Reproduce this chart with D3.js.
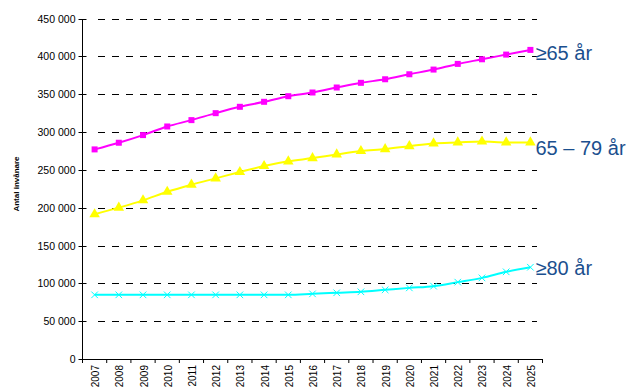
<!DOCTYPE html>
<html>
<head>
<meta charset="utf-8">
<script src="https://cdn.jsdelivr.net/npm/d3@7"></script>
<style>
  html, body { margin: 0; padding: 0; background: #fff; }
  svg { display: block; font-family: "Liberation Sans", Arial, sans-serif; }
</style>
</head>
<body>
<svg id="chart" width="633" height="389"></svg>
<script>
const years = ["2007","2008","2009","2010","2011","2012","2013","2014","2015","2016",
               "2017","2018","2019","2020","2021","2022","2023","2024","2025"];
const age65plus = [277000,285800,295900,307300,315700,324900,333300,339900,347300,352200,
                   358800,365000,369700,376300,382500,390000,396100,402300,408500];
const age65to79 = [191300,200100,209700,221000,230400,238700,247100,255000,261200,265500,
                   270400,274800,277400,281300,284900,286200,287500,286200,286200];
const age80plus = [84800,84800,84800,84800,84800,84800,84800,84800,84800,86100,
                   87500,88800,91400,94000,96300,101600,107200,115200,121300];
const yTicks = [0,50000,100000,150000,200000,250000,300000,350000,400000,450000];
const seriesNames = ["≥65 år", "65 – 79 år", "≥80 år"];

const svg = d3.select("#chart");
const m = { left: 82.5, right: 542.5, top: 18.5, bottom: 359 };

const x = d3.scaleBand().domain(years).range([m.left, m.right]);
const y = d3.scaleLinear().domain([0, 450000]).range([m.bottom, m.top]);
const fmt = v => d3.format(",")(v).replace(/,/g, " ");
const snap = v => Math.round(v) + 0.5;

// dashed horizontal gridlines
svg.append("g").selectAll("line")
  .data(yTicks.filter(d => d > 0))
  .join("line")
  .attr("x1", 98).attr("x2", 537)
  .attr("y1", d => snap(y(d))).attr("y2", d => snap(y(d)))
  .attr("stroke", "#000").attr("stroke-width", 1)
  .attr("stroke-dasharray", "7,7");

// y axis: line, ticks crossing the axis, labels
const yAxis = svg.append("g");
yAxis.append("line").attr("x1", m.left).attr("x2", m.left)
  .attr("y1", snap(y(450000)) - 0.5).attr("y2", m.bottom + 1).attr("stroke", "#000");
yAxis.selectAll("line.tk").data(yTicks).join("line").attr("class", "tk")
  .attr("x1", m.left - 4).attr("x2", m.left + 4)
  .attr("y1", d => snap(y(d))).attr("y2", d => snap(y(d)))
  .attr("stroke", "#000");
yAxis.selectAll("text").data(yTicks).join("text")
  .attr("x", m.left - 7).attr("y", d => y(d) + 4)
  .attr("text-anchor", "end").attr("font-size", 10.5)
  .text(fmt);

// x axis with ticks at category boundaries
const xAxisG = svg.append("g").attr("transform", `translate(0,${m.bottom})`);
xAxisG.append("line").attr("x1", m.left).attr("x2", m.right).attr("y1", 0.5).attr("y2", 0.5)
  .attr("stroke", "#000");
const boundaries = years.map(d => x(d)).concat([m.right]);
xAxisG.selectAll("line.tk").data(boundaries).join("line").attr("class", "tk")
  .attr("x1", d => d).attr("x2", d => d).attr("y1", 0).attr("y2", 4)
  .attr("stroke", "#000");
xAxisG.selectAll("text").data(years).join("text")
  .attr("transform", d => `translate(${x(d) + x.bandwidth() / 2 + 4.5},6) rotate(-90)`)
  .attr("text-anchor", "end")
  .attr("font-size", 10)
  .text(d => d);

// y axis title
svg.append("text")
  .attr("transform", "translate(19,184) rotate(-90)")
  .attr("text-anchor", "middle")
  .attr("font-size", 8).attr("font-weight", "bold")
  .text("Antal invånare");

const cx = d => x(d) + x.bandwidth() / 2;
const line = d3.line().x((d, i) => cx(years[i])).y(d => y(d)).curve(d3.curveMonotoneX);

// ≥65 år
svg.append("path").datum(age65plus).attr("d", line)
  .attr("fill", "none").attr("stroke", "#FF00FF").attr("stroke-width", 2);
svg.append("g").selectAll("rect").data(age65plus).join("rect")
  .attr("x", (d, i) => cx(years[i]) - 3).attr("y", d => y(d) - 3)
  .attr("width", 6).attr("height", 6).attr("fill", "#FF00FF");

// 65 – 79 år
svg.append("path").datum(age65to79).attr("d", line)
  .attr("fill", "none").attr("stroke", "#FFFF00").attr("stroke-width", 2);
svg.append("g").selectAll("path").data(age65to79).join("path")
  .attr("d", d3.symbol(d3.symbolTriangle, 48))
  .attr("transform", (d, i) => `translate(${cx(years[i])},${y(d)})`)
  .attr("fill", "#FFFF00");

// ≥80 år
svg.append("path").datum(age80plus).attr("d", line)
  .attr("fill", "none").attr("stroke", "#00FFFF").attr("stroke-width", 2);
svg.append("g").selectAll("path").data(age80plus).join("path")
  .attr("d", d3.symbol(d3.symbolTimes, 30))
  .attr("transform", (d, i) => `translate(${cx(years[i])},${y(d)})`)
  .attr("fill", "none").attr("stroke", "#00FFFF").attr("stroke-width", 1);

// series labels at line ends
const last = years.length - 1;
const ends = [age65plus[last], age65to79[last], age80plus[last]];
const baselineShift = [10, 13, 8];
svg.append("g").selectAll("text").data(seriesNames).join("text")
  .attr("x", 535.5)
  .attr("y", (d, i) => y(ends[i]) + baselineShift[i])
  .attr("font-size", 20)
  .attr("fill", "#1B4F8E")
  .text(d => d);
</script>
</body>
</html>
